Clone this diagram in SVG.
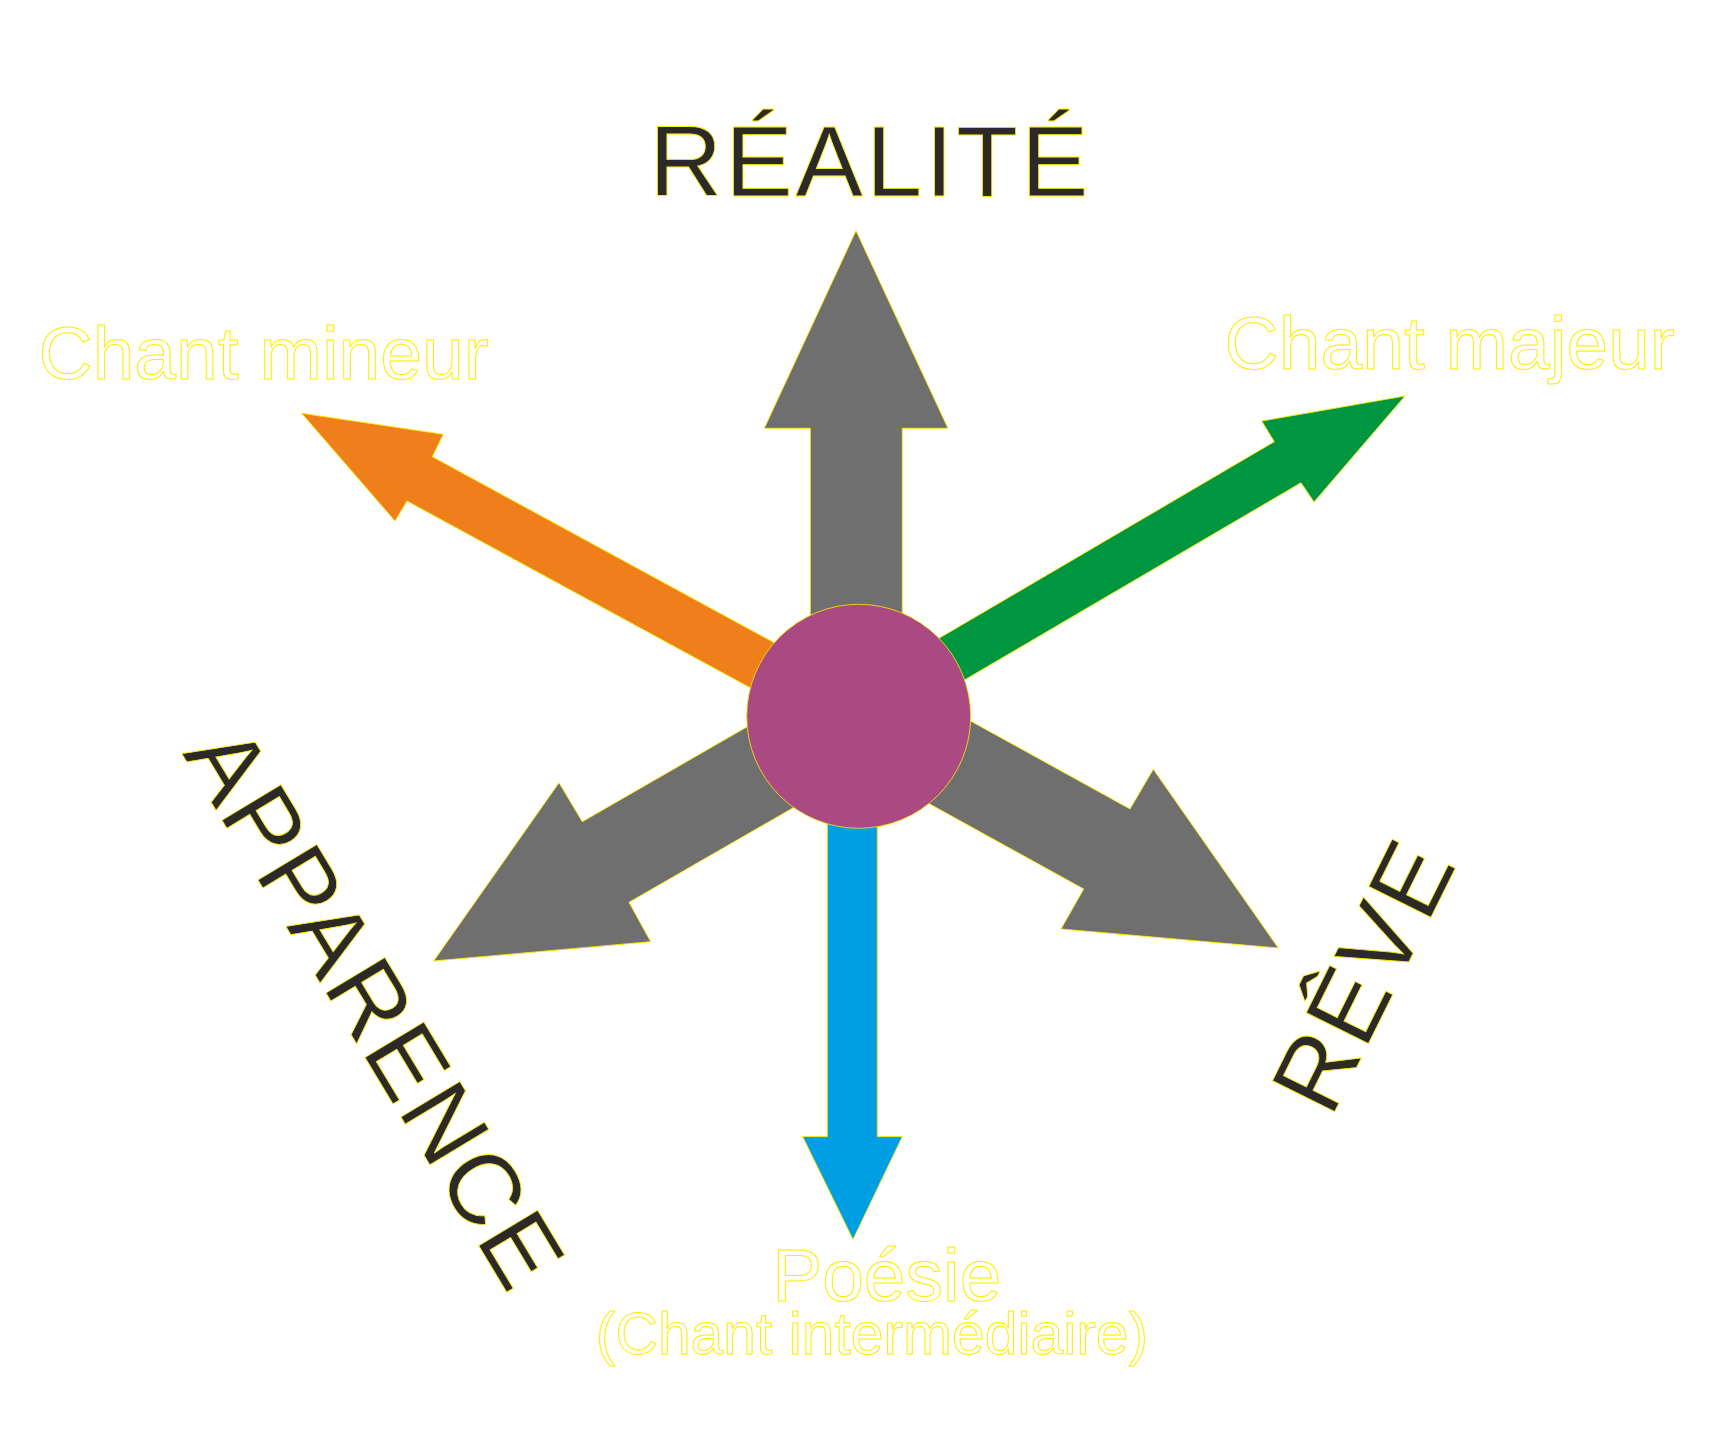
<svg xmlns="http://www.w3.org/2000/svg" width="1717" height="1433" viewBox="0 0 1717 1433">
<style>
.arrow{stroke:#ffec00;stroke-width:0.9;stroke-linejoin:miter}
.gray{fill:#706f6f}
.orange{fill:#ef7f1a}
.green{fill:#009640}
.blue{fill:#009fe3}
.hub{fill:#ab4a82;stroke:#ffec00;stroke-width:0.8}
.dark{font-family:"Liberation Sans",Arial,sans-serif;fill:#2b2a29;stroke:#ffec00;stroke-width:0.8;letter-spacing:3px}
.light{font-family:"Liberation Sans",Arial,sans-serif;fill:#ffffff;stroke:#ffec00;stroke-width:1}
</style>
<rect width="1717" height="1433" fill="#ffffff"/>
<g id="connectors">
  <polygon id="arrow-realite" class="arrow gray" points="810.3,716 810.3,428.3 764.3,428.3 856,230.7 948,428.3 902.3,428.3 902.3,716"/>
  <polygon id="arrow-mineur" class="arrow orange" points="301.7,413.3 443.3,434.3 432.3,456.7 827.6,671.8 802.3,716.1 407,501 395,521"/>
  <polygon id="arrow-majeur" class="arrow green" points="1405,396 1261.7,421 1274.3,441.7 886.1,669.3 912.8,710.3 1301,482.7 1314,502"/>
  <polygon id="arrow-apparence" class="arrow gray" points="433.7,961 559,782.7 582.3,821.7 842.3,672 889,752.6 629,902.3 650.7,941.7"/>
  <polygon id="arrow-reve" class="arrow gray" points="1278.3,948 1153.3,769.3 1130,809 867.4,664 821.1,744 1083.7,889 1061,929"/>
  <polygon id="arrow-poesie" class="arrow blue" points="827.3,716 827.3,1136.6 802.6,1136.6 853,1239.5 902.3,1136.6 877.3,1136.6 877.3,716"/>
</g>
<g id="node-center">
  <circle class="hub" cx="858.7" cy="716.3" r="112"/>
</g>
<g id="label-realite">
  <text class="dark" x="649.3" y="195.7" font-size="101">RÉALITÉ</text>
</g>
<g id="label-apparence">
  <text class="dark" transform="translate(181.7,753.6) rotate(58.9)" font-size="100">APPARENCE</text>
</g>
<g id="label-reve">
  <text class="dark" transform="translate(1331,1118.9) rotate(-63.6)" font-size="101">RÊVE</text>
</g>
<g id="label-mineur">
  <text class="light" x="38.5" y="379.3" font-size="75">Chant mineur</text>
</g>
<g id="label-majeur">
  <text class="light" x="1224.6" y="369.3" font-size="75">Chant majeur</text>
</g>
<g id="label-poesie">
  <text class="light" x="886.8" y="1301" font-size="75" text-anchor="middle">Poésie</text>
  <text class="light" x="872" y="1354.3" font-size="58.8" text-anchor="middle">(Chant intermédiaire)</text>
</g>
</svg>
